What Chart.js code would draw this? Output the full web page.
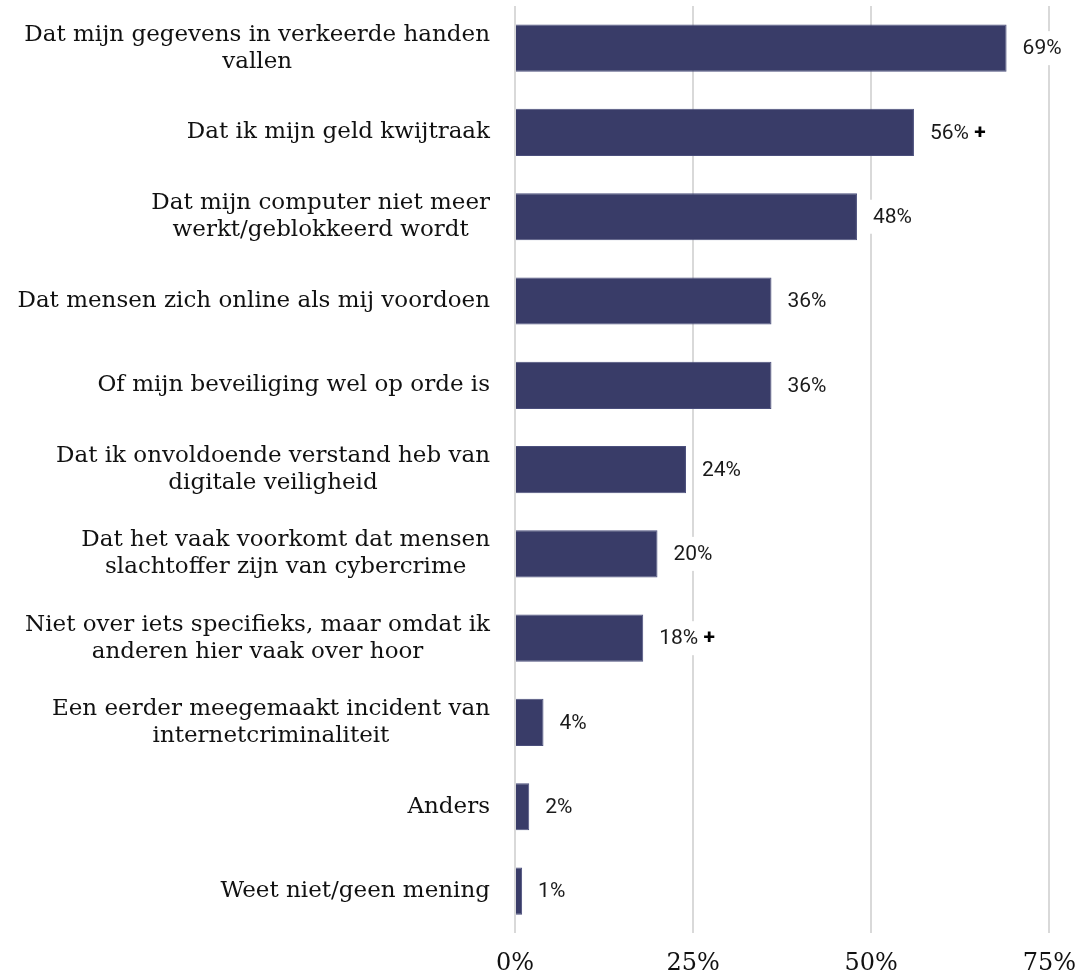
<!DOCTYPE html>
<html lang="nl">
<head>
<meta charset="utf-8">
<title>Zorgen over internetcriminaliteit</title>
<script src="https://cdn.jsdelivr.net/npm/chart.js@4/dist/chart.umd.min.js"></script>
<style>
    html, body { margin: 0; padding: 0; background: #fff; overflow: hidden; }
    #wrap { position: absolute; left: 0; top: 0; width: 1092px; height: 996px; }
</style>
</head>
<body>
<div id="wrap"><canvas id="zorgenChart"></canvas></div>
<script>
// Categories top to bottom, long ones split over two lines
const categories = [
    ['Dat mijn gegevens in verkeerde handen', 'vallen'],
    ['Dat ik mijn geld kwijtraak'],
    ['Dat mijn computer niet meer', 'werkt/geblokkeerd wordt'],
    ['Dat mensen zich online als mij voordoen'],
    ['Of mijn beveiliging wel op orde is'],
    ['Dat ik onvoldoende verstand heb van', 'digitale veiligheid'],
    ['Dat het vaak voorkomt dat mensen', 'slachtoffer zijn van cybercrime'],
    ['Niet over iets specifieks, maar omdat ik', 'anderen hier vaak over hoor'],
    ['Een eerder meegemaakt incident van', 'internetcriminaliteit'],
    ['Anders'],
    ['Weet niet/geen mening']
];
const percentages = [69, 56, 48, 36, 36, 24, 20, 18, 4, 2, 1];
// significant difference marker shown as a bold "+"
const plusMarks = [false, true, false, false, false, false, false, true, false, false, false];
const xTicks = [0, 25, 50, 75];

const labelFont = '"DejaVu Serif", "Liberation Serif", serif';
const valueFont = 'Roboto, "Noto Sans", sans-serif';

// Category labels: right aligned block, lines centered inside the block
const categoryLabels = {
    id: 'categoryLabels',
    afterDraw(chart) {
        const ctx = chart.ctx;
        const yScale = chart.scales.y;
        const rightEdge = chart.chartArea.left - 25;
        const lineHeight = 27;
        ctx.save();
        ctx.font = '23px ' + labelFont;
        ctx.fillStyle = '#111';
        ctx.textAlign = 'center';
        ctx.textBaseline = 'middle';
        categories.forEach((lines, i) => {
            const y = yScale.getPixelForValue(i);
            const maxW = Math.max(...lines.map(l => ctx.measureText(l).width));
            const cx = rightEdge - maxW / 2;
            const y0 = y - (lines.length - 1) * lineHeight / 2;
            lines.forEach((l, j) => ctx.fillText(l, cx, y0 + j * lineHeight));
        });
        ctx.restore();
    }
};

// Value labels at the end of each bar, on a white box that breaks the grid
const valueLabels = {
    id: 'valueLabels',
    afterDatasetsDraw(chart) {
        const ctx = chart.ctx;
        const meta = chart.getDatasetMeta(0);
        ctx.save();
        ctx.textBaseline = 'middle';
        ctx.textAlign = 'left';
        meta.data.forEach((bar, i) => {
            const txt = percentages[i] + '%';
            const x = bar.x + 16;
            const y = bar.y;
            ctx.font = '21px ' + valueFont;
            let w = ctx.measureText(txt).width;
            let plusW = 0;
            if (plusMarks[i]) {
                ctx.font = 'bold 21px ' + valueFont;
                plusW = ctx.measureText(' +').width;
            }
            ctx.fillStyle = '#fff';
            ctx.fillRect(x - 6, y - 17, w + plusW + 12, 34);
            ctx.font = '21px ' + valueFont;
            ctx.fillStyle = '#1a1a1a';
            ctx.fillText(txt, x, y + 1);
            if (plusMarks[i]) {
                ctx.font = 'bold 21px ' + valueFont;
                ctx.fillStyle = '#000';
                ctx.fillText(' +', x + w, y + 1);
            }
        });
        ctx.restore();
    }
};

const ctx = document.getElementById('zorgenChart').getContext('2d');
const zorgenChart = new Chart(ctx, {
    type: 'bar',
    data: {
        labels: categories,
        datasets: [{
            data: percentages,
            backgroundColor: '#393c68',
            borderColor: '#4b4f7c',
            borderWidth: 1,
            categoryPercentage: 0.8,
            barPercentage: 0.7
        }]
    },
    options: {
        indexAxis: 'y',
        responsive: true,
        maintainAspectRatio: false,
        animation: false,
        layout: {
            padding: { left: 515, top: 6, bottom: 2, right: 0 }
        },
        plugins: {
            legend: { display: false },
            tooltip: { enabled: false }
        },
        scales: {
            x: {
                min: 0,
                max: 75,
                afterBuildTicks: axis => {
                    axis.ticks = xTicks.map(v => ({ value: v }));
                },
                grid: {
                    color: '#d9d9d9',
                    lineWidth: 2,
                    drawTicks: false
                },
                border: { display: false },
                ticks: {
                    padding: 16,
                    color: '#111',
                    font: { family: labelFont, size: 24 },
                    callback: v => v + '%'
                }
            },
            y: {
                display: false
            }
        }
    },
    plugins: [categoryLabels, valueLabels]
});
</script>
</body>
</html>
